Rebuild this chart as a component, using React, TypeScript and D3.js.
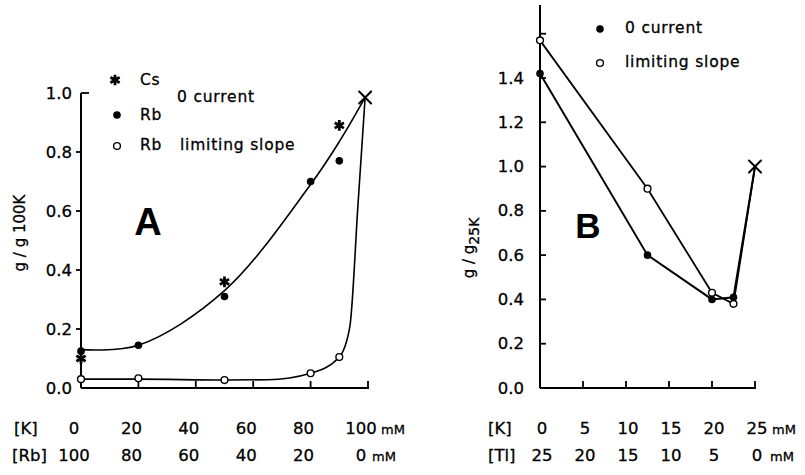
import React from "react";
import * as d3 from "d3";

// Panel A: conductance vs [K] with Rb (or Cs) substitution, total 100 mM
const kA = [0, 20, 50, 80, 90];
const rbZeroCurrentA = [0.125, 0.145, 0.31, 0.7, 0.77];
const kCsA = [0, 50, 90];
const csZeroCurrentA = [0.1, 0.36, 0.89];
const rbLimitingA = [0.03, 0.033, 0.027, 0.05, 0.105];
// hand-drawn fit curves through the points
const fitZeroK = [0, 20, 50, 80, 90, 99];
const fitZeroA = [0.13, 0.145, 0.33, 0.69, 0.835, 0.985];
const fitLimK = [0, 20, 50, 65, 80, 90, 93.7, 96.5, 99];
const fitLimA = [0.03, 0.03, 0.027, 0.028, 0.05, 0.105, 0.21, 0.62, 0.985];
const refKA = 99;
const refA = 0.985;
const yTicksA = [0, 0.2, 0.4, 0.6, 0.8, 1.0];
const xTicksA = [20, 40, 60, 80, 100];
const kLabelsA = [0, 20, 40, 60, 80, 100];

// Panel B: conductance vs [K] with Tl substitution, total 25 mM
const kB = [0, 12.5, 20, 22.5];
const zeroCurrentB = [1.42, 0.6, 0.4, 0.41];
const limitingB = [1.57, 0.9, 0.43, 0.38];
const refKB = 25;
const refB = 1.0;
const yTicksB = [0, 0.2, 0.4, 0.6, 0.8, 1.0, 1.2, 1.4];
const xTicksB = [5, 10, 15, 20, 25];
const kLabelsB = [0, 5, 10, 15, 20, 25];

const W = 805;
const H = 475;
const FONT = "'DejaVu Sans', Verdana, sans-serif";

const xA = d3.scaleLinear().domain([0, 100]).range([81, 368]);
const yA = d3.scaleLinear().domain([0, 1]).range([388, 93]);
const xB = d3.scaleLinear().domain([0, 25]).range([540, 755]);
const yB = d3.scaleLinear().domain([0, 1.4]).range([388, 78]);

function Cross({ x, y, s = 6 }: { x: number; y: number; s?: number }) {
  return (
    <g stroke="#000" strokeWidth={2} strokeLinecap="round">
      <line x1={x - s} y1={y - s} x2={x + s} y2={y + s} />
      <line x1={x - s} y1={y + s} x2={x + s} y2={y - s} />
    </g>
  );
}

const starPath = d3.symbol(d3.symbolAsterisk, 80)() as string;

function Star({ x, y }: { x: number; y: number }) {
  return (
    <path
      d={starPath}
      transform={`translate(${x},${y})`}
      fill="none"
      stroke="#000"
      strokeWidth={2.8}
    />
  );
}

function Dot({ x, y, open }: { x: number; y: number; open?: boolean }) {
  return open ? (
    <circle cx={x} cy={y} r={3.4} fill="#fff" stroke="#000" strokeWidth={1.4} />
  ) : (
    <circle cx={x} cy={y} r={3.8} fill="#000" />
  );
}

export default function App() {
  const smoothZero = d3
    .line<[number, number]>()
    .x((d) => xA(d[0]))
    .y((d) => yA(d[1]))
    .curve(d3.curveCatmullRom.alpha(0.5));
  const smoothLim = d3
    .line<[number, number]>()
    .x((d) => xA(d[0]))
    .y((d) => yA(d[1]))
    .curve(d3.curveMonotoneX);
  const fitZero = smoothZero(fitZeroK.map((k, i) => [k, fitZeroA[i]]));
  const fitLim = smoothLim(fitLimK.map((k, i) => [k, fitLimA[i]]));

  const straightB = d3
    .line<[number, number]>()
    .x((d) => xB(d[0]))
    .y((d) => yB(d[1]));
  const lineZeroB = straightB([
    ...kB.map((k, i) => [k, zeroCurrentB[i]] as [number, number]),
    [refKB, refB],
  ]);
  const lineLimB = straightB([
    ...kB.map((k, i) => [k, limitingB[i]] as [number, number]),
    [refKB, refB],
  ]);

  const ink = { fill: "#000", stroke: "#000", strokeWidth: 0.3 } as const;
  const tickText = { fontFamily: FONT, fontSize: 16.5, ...ink } as const;
  const legendText = { fontFamily: FONT, fontSize: 15.5, letterSpacing: 0.8, ...ink } as const;
  const unitText = { fontFamily: FONT, fontSize: 13, ...ink } as const;

  return (
    <svg
      width={W}
      height={H}
      viewBox={`0 0 ${W} ${H}`}
      style={{ position: "absolute", left: 0, top: 0, background: "#fff" }}
    >
      <rect width={W} height={H} fill="#fff" />

      {/* ---------- Panel A ---------- */}
      <g>
        {/* axes */}
        <line x1={xA(0)} y1={yA(1)} x2={xA(0)} y2={yA(0)} stroke="#000" strokeWidth={2} />
        <line x1={xA(0)} y1={yA(0)} x2={xA(100) + 1} y2={yA(0)} stroke="#000" strokeWidth={2} />
        {yTicksA.map((v) =>
          v === 1 ? (
            <line key={v} x1={xA(0)} x2={xA(0) + 8} y1={yA(v)} y2={yA(v)} stroke="#000" strokeWidth={1.8} />
          ) : v > 0 ? (
            <line key={v} x1={xA(0) - 5} x2={xA(0)} y1={yA(v)} y2={yA(v)} stroke="#000" strokeWidth={1.8} />
          ) : null
        )}
        {xTicksA.map((v) => (
          <line key={v} x1={xA(v)} x2={xA(v)} y1={yA(0)} y2={yA(0) - 7} stroke="#000" strokeWidth={1.8} />
        ))}
        {yTicksA.map((v) => (
          <text key={v} x={xA(0) - 9} y={yA(v)} textAnchor="end" dominantBaseline="central" {...tickText}>
            {v.toFixed(1)}
          </text>
        ))}
        <text
          transform={`translate(25,233) rotate(-90)`}
          textAnchor="middle"
          fontFamily={FONT}
          fontSize={15}
          {...ink}
        >
          g / g 100K
        </text>

        {/* fitted curves */}
        <path d={fitZero ?? ""} fill="none" stroke="#000" strokeWidth={1.6} />
        <path d={fitLim ?? ""} fill="none" stroke="#000" strokeWidth={1.6} />

        {/* data points */}
        {rbLimitingA.map((v, i) => (
          <Dot key={`l${i}`} x={xA(kA[i])} y={yA(v)} open />
        ))}
        {rbZeroCurrentA.map((v, i) => (
          <Dot key={`z${i}`} x={xA(kA[i])} y={yA(v)} />
        ))}
        {csZeroCurrentA.map((v, i) => (
          <Star key={`c${i}`} x={xA(kCsA[i])} y={yA(v)} />
        ))}
        <Cross x={xA(refKA)} y={yA(refA)} />

        {/* legend */}
        <Star x={115} y={80} />
        <text x={140} y={80} dominantBaseline="central" {...legendText}>Cs</text>
        <text x={177} y={97} dominantBaseline="central" {...legendText}>0 current</text>
        <Dot x={117} y={115} />
        <text x={140} y={115} dominantBaseline="central" {...legendText}>Rb</text>
        <Dot x={117} y={146} open />
        <text x={140} y={145} dominantBaseline="central" {...legendText}>Rb</text>
        <text x={180} y={145} dominantBaseline="central" {...legendText}>limiting slope</text>

        <text x={148} y={222} textAnchor="middle" dominantBaseline="central" fontFamily="'Liberation Sans', Arial, sans-serif" fontWeight="bold" fontSize={38}>
          A
        </text>

        {/* concentration rows */}
        <text x={14} y={434} {...tickText}>[K]</text>
        {kLabelsA.map((v) => (
          <text key={`k${v}`} x={xA(v) - 7} y={434} textAnchor="middle" {...tickText}>{v}</text>
        ))}
        <text x={381} y={434} {...unitText}>mM</text>
        <text x={12} y={461} {...tickText}>[Rb]</text>
        {kLabelsA.map((v) => (
          <text key={`r${v}`} x={xA(v) - 7} y={461} textAnchor="middle" {...tickText}>{100 - v}</text>
        ))}
        <text x={372} y={461} {...unitText}>mM</text>
      </g>

      {/* ---------- Panel B ---------- */}
      <g>
        <line x1={xB(0)} y1={5} x2={xB(0)} y2={yB(0)} stroke="#000" strokeWidth={2} />
        <line x1={xB(0)} y1={yB(0)} x2={xB(25) + 1} y2={yB(0)} stroke="#000" strokeWidth={2} />
        {[...yTicksB, 1.6].map((v) =>
          v > 0 ? (
            <line key={v} x1={xB(0)} x2={xB(0) + 6} y1={yB(v)} y2={yB(v)} stroke="#000" strokeWidth={1.8} />
          ) : null
        )}
        {xTicksB.map((v) => (
          <line key={v} x1={xB(v)} x2={xB(v)} y1={yB(0)} y2={yB(0) - 7} stroke="#000" strokeWidth={1.8} />
        ))}
        {yTicksB.map((v) => (
          <text key={v} x={xB(0) - 16} y={yB(v)} textAnchor="end" dominantBaseline="central" {...tickText}>
            {v.toFixed(1)}
          </text>
        ))}
        <text
          transform={`translate(474,248) rotate(-90)`}
          textAnchor="middle"
          fontFamily={FONT}
          fontSize={15}
          {...ink}
        >
          g / g
          <tspan dy={5} fontSize={14}>25K</tspan>
        </text>

        <path d={lineLimB ?? ""} fill="none" stroke="#000" strokeWidth={1.8} />
        <path d={lineZeroB ?? ""} fill="none" stroke="#000" strokeWidth={2} />

        {limitingB.map((v, i) => (
          <Dot key={`l${i}`} x={xB(kB[i])} y={yB(v)} open />
        ))}
        {zeroCurrentB.map((v, i) => (
          <Dot key={`z${i}`} x={xB(kB[i])} y={yB(v)} />
        ))}
        <Cross x={xB(refKB)} y={yB(refB)} />

        {/* legend */}
        <Dot x={600} y={29} />
        <text x={625} y={28} dominantBaseline="central" {...legendText}>0 current</text>
        <Dot x={600} y={63} open />
        <text x={625} y={62} dominantBaseline="central" {...legendText}>limiting  slope</text>

        <text x={588} y={225} textAnchor="middle" dominantBaseline="central" fontFamily="'Liberation Sans', Arial, sans-serif" fontWeight="bold" fontSize={35}>
          B
        </text>

        <text x={488} y={434} {...tickText}>[K]</text>
        {kLabelsB.map((v) => (
          <text key={`k${v}`} x={xB(v) + 2} y={434} textAnchor="middle" {...tickText}>{v}</text>
        ))}
        <text x={772} y={434} {...unitText}>mM</text>
        <text x={488} y={461} {...tickText}>[Tl]</text>
        {kLabelsB.map((v) => (
          <text key={`t${v}`} x={xB(v) + 2} y={461} textAnchor="middle" {...tickText}>{25 - v}</text>
        ))}
        <text x={770} y={461} {...unitText}>mM</text>
      </g>
    </svg>
  );
}
